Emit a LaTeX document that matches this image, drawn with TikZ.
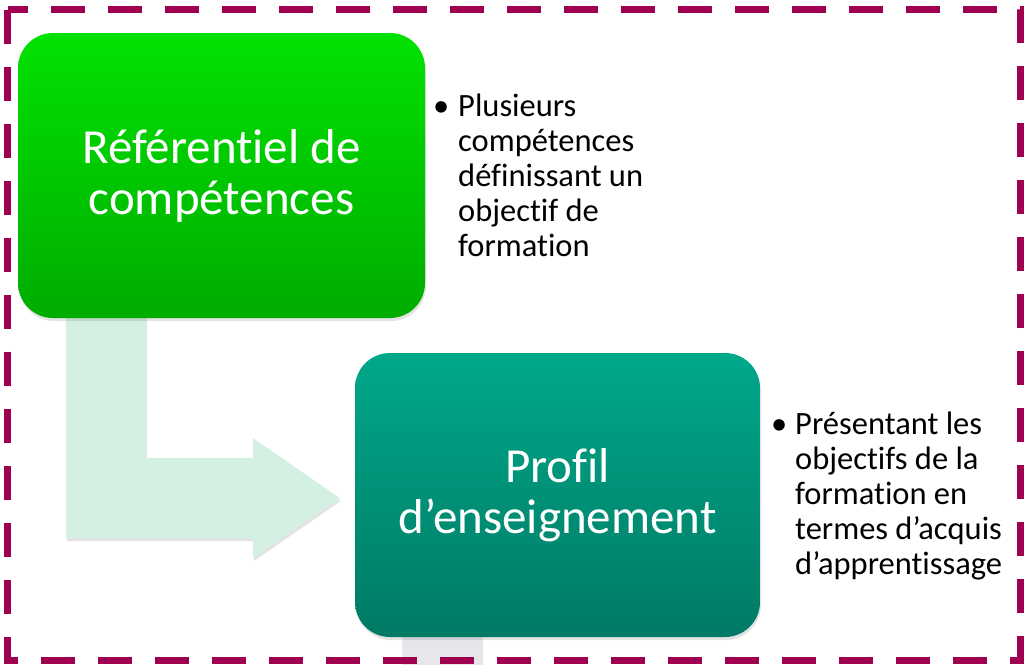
\documentclass[tikz,border=0pt]{standalone}
\usepackage{fontspec}
\setmainfont{Carlito}[Ligatures=CommonOff]
\usetikzlibrary{calc,shadows,backgrounds}

\definecolor{framered}{RGB}{160,0,80}
\definecolor{greentop}{RGB}{2,226,2}
\definecolor{greenbot}{RGB}{0,172,0}
\definecolor{tealtop}{RGB}{0,168,138}
\definecolor{tealbot}{RGB}{0,122,100}
\definecolor{arrowfill}{RGB}{212,240,226}
\definecolor{barfill}{RGB}{230,230,235}

\tikzset{
    softshadow/.style={drop shadow={shadow xshift=1pt, shadow yshift=-3pt, opacity=0.22}},
    stagebox/.style={rounded corners=35pt, minimum width=407pt, minimum height=285pt,
        text=white, align=center, font=\fontsize{49}{51}\selectfont, softshadow},
    bullettext/.style={anchor=base west, inner sep=0pt, font=\fontsize{32.5}{35}\selectfont}
}

\begin{document}
\begin{tikzpicture}[x=1pt, y=-1pt]
    \useasboundingbox (0,0) rectangle (1024,664);

    % the two stages
    \node[stagebox, top color=greentop, bottom color=greenbot] (referentiel) at (221.5,175.5)
        {Référentiel de\\compétences};
    \node[stagebox, minimum width=405pt, minimum height=284pt,
          top color=tealtop, bottom color=tealbot] (profil) at (557.5,495)
        {Profil\\d’enseignement};

    % bullet texts
    \node[bullettext] (descReferentiel) at (433,116)
        {\begin{tabular}[t]{@{}p{25pt}@{}l@{}}
            • & Plusieurs\\
              & compétences\\
              & définissant un\\
              & objectif de\\
              & formation
         \end{tabular}};
    \node[bullettext] (descProfil) at (771,434)
        {\begin{tabular}[t]{@{}p{24pt}@{}l@{}}
            • & Présentant les\\
              & objectifs de la\\
              & formation en\\
              & termes d’acquis\\
              & d’apprentissage
         \end{tabular}};

    % bent arrow and next step, behind the stages
    \begin{scope}[on background layer]
        \coordinate (arrowstart) at ($(referentiel.south west)+(48,-10)$);
        \coordinate (arrowtip) at ($(profil.west)+(-15,3)$);
        \fill[arrowfill, softshadow] (arrowstart) -- ++(80,0) |- ($(arrowtip)+(-87,-40)$)
            -- ++(0,-20) -- (arrowtip) -- ++(-87,60) -- ++(0,-20) -| cycle;
        \fill[barfill, softshadow] ($(profil.south west)+(47,-10)$) rectangle ++(80,40);
    \end{scope}

    % dashed frame
    \draw[framered, line width=7pt, dash pattern=on 34pt off 23pt] (7.5,9.5) rectangle (1020,660);
\end{tikzpicture}
\end{document}
